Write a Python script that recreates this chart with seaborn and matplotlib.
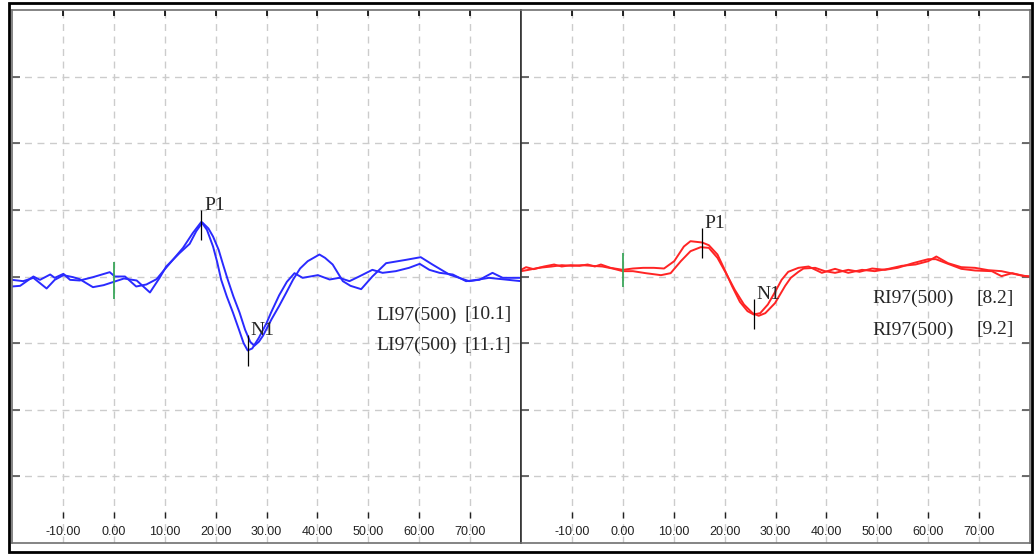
import matplotlib
matplotlib.use('Agg')
import numpy as np
import matplotlib.pyplot as plt
import seaborn as sns
from matplotlib.patches import Rectangle

# ── data (ms, relative amplitude) ─────────────────────────────────────────
blue_a_t = [-20, -18.4, -15.8, -14.5, -12.5, -11.6, -9.9, -8.6, -6.7, -4.1, -0.8, 0.2,
            2.2, 4.4, 6.4, 8.4, 9.7, 11.6, 13.6, 15.5, 17.2, 18.3, 19.5, 20.3, 21.1,
            22.2, 23.4, 24.6, 25.5, 26.3, 27.2, 28.5, 30.0, 30.9, 32.5, 34.0, 35.5,
            37.1, 40.1, 42.4, 44.3, 46.3, 48.2, 50.8, 52.8, 55.4, 58.0, 60.1, 62.0,
            64.0, 66.6, 69.2, 71.8, 74.4, 76.4, 80]
blue_a_v = [-0.15, -0.14, 0.0, -0.05, 0.03, -0.02, 0.04, -0.05, -0.06, -0.01, 0.065, 0.0,
            0.0, -0.15, -0.12, -0.04, 0.08, 0.25, 0.43, 0.65, 0.82, 0.70, 0.45, 0.22, -0.05,
            -0.30, -0.54, -0.80, -1.00, -1.11, -1.08, -0.92, -0.70, -0.54, -0.28, -0.08, 0.05,
            -0.02, 0.02, -0.045, -0.02, -0.07, 0.0, 0.10, 0.055, 0.08, 0.13, 0.19, 0.10,
            0.055, 0.03, -0.07, -0.05, 0.055, -0.02, -0.02]

blue_b_t = [-20, -17.8, -15.8, -13.2, -11.6, -9.9, -8, -6.7, -4.1, -2, 0, 2, 4.5, 7.1,
            9.0, 10.3, 12.9, 14.9, 16.2, 17.4, 18.6, 19.5, 20.6, 21.5, 22.4, 23.5, 24.7,
            25.8, 26.8, 27.6, 28.5, 29.3, 31.0, 32.5, 33.9, 35.2, 36.6, 38.1, 40.4, 41.5,
            43.0, 45.0, 46.5, 48.6, 50.8, 53.5, 57.4, 60.3, 62.6, 65.9, 69.8, 73.7, 80]
blue_b_v = [-0.05, -0.07, -0.02, -0.18, -0.05, 0.02, -0.01, -0.04, -0.16, -0.13, -0.08,
            -0.03, -0.06, -0.24, -0.02, 0.15, 0.35, 0.49, 0.68, 0.81, 0.72, 0.60, 0.40,
            0.17, -0.05, -0.30, -0.54, -0.80, -0.98, -1.04, -0.98, -0.89, -0.64, -0.44,
            -0.24, -0.05, 0.12, 0.23, 0.33, 0.28, 0.18, -0.07, -0.14, -0.19, 0.0, 0.20,
            0.25, 0.29, 0.18, 0.03, -0.07, -0.02, -0.07]

red_a_t = [-20, -19, -17.5, -15.5, -13.5, -12, -10.2, -8.5, -6.9, -5.5, -4.3, -2.4, 0,
           2, 4, 6.1, 8.1, 10.1, 12.0, 13.3, 15.6, 16.9, 18.6, 19.9, 21.5, 23.0, 24.5,
           25.7, 27.0, 28.5, 30.0, 31.2, 32.5, 34.5, 36.5, 39.1, 41.7, 44.3, 47.0, 49.5,
           52.2, 54.8, 57.5, 60.0, 61.6, 63.9, 66.5, 69.2, 71.8, 74.4, 78.3, 80]
red_a_v = [0.10, 0.14, 0.11, 0.15, 0.18, 0.15, 0.17, 0.16, 0.18, 0.15, 0.18, 0.13, 0.10,
           0.12, 0.13, 0.13, 0.12, 0.23, 0.45, 0.53, 0.51, 0.47, 0.33, 0.12, -0.15, -0.38,
           -0.52, -0.57, -0.55, -0.42, -0.22, -0.05, 0.07, 0.13, 0.15, 0.055, 0.115, 0.055,
           0.10, 0.08, 0.115, 0.16, 0.18, 0.23, 0.30, 0.20, 0.14, 0.13, 0.095, 0.08, 0.015,
           0.0]

red_b_t = [-20, -18.5, -16.5, -14, -12, -10, -8, -6, -4, -2, 0, 2, 4.5, 7.5, 9.4, 11.4,
           13.3, 15.3, 16.9, 18.6, 20.2, 22.0, 23.8, 25.5, 26.7, 28.0, 29.9, 31.9, 33.0,
           34.5, 35.5, 37.8, 39.7, 41.7, 44.3, 46.5, 49.0, 51.5, 54.0, 57.0, 60.0, 61.5,
           63.9, 66.5, 69.2, 72.5, 74.4, 76.5, 79, 80]
red_b_v = [0.08, 0.10, 0.13, 0.15, 0.17, 0.16, 0.17, 0.16, 0.15, 0.12, 0.08, 0.08, 0.05,
           0.02, 0.05, 0.23, 0.38, 0.44, 0.43, 0.28, 0.06, -0.20, -0.42, -0.55, -0.59,
           -0.55, -0.40, -0.14, -0.02, 0.07, 0.12, 0.13, 0.08, 0.055, 0.10, 0.07, 0.12,
           0.10, 0.13, 0.20, 0.26, 0.26, 0.19, 0.115, 0.09, 0.08, 0.005, 0.05, 0.005, 0.0]

# peak markers: name, latency, marker bottom, marker top
left_peaks = ['P1', 'N1']
left_peak_t = [17.2, 26.3]
left_peak_lo = [0.55, -1.34]
left_peak_hi = [1.00, -0.88]
right_peaks = ['P1', 'N1']
right_peak_t = [15.6, 25.7]
right_peak_lo = [0.28, -0.79]
right_peak_hi = [0.73, -0.34]

# stimulus marker span at t = 0
left_stim = (-0.345, 0.225)
right_stim = (-0.165, 0.36)

left_names = ['LI97(500)', 'LI97(500)']
left_vals = ['[10.1]', '[11.1]']
right_names = ['RI97(500)', 'RI97(500)']
right_vals = ['[8.2]', '[9.2]']

xticks = [-10, 0, 10, 20, 30, 40, 50, 60, 70]
xtick_labels = [f'{x:.2f}' for x in xticks]
yticks = [-3, -2, -1, 0, 1, 2, 3]

BLUE = '#2a2aff'
RED = '#ff2424'
GREEN = '#3aa65a'

sns.set_style('white')
plt.rcParams['font.family'] = ['Liberation Serif', 'DejaVu Serif']
plt.rcParams['lines.solid_joinstyle'] = 'round'

fig = plt.figure(figsize=(10.36, 5.56), dpi=100)
ax_l = fig.add_axes([12 / 1036, 13 / 556, 509 / 1036, 533 / 556])
ax_r = fig.add_axes([521 / 1036, 13 / 556, 509 / 1036, 533 / 556])


def style_panel(ax, left_t, right_t, inner):
    ax.set_xlim(-20, 80)
    ax.set_ylim(-4, 4)
    ax.set_xticks(xticks)
    ax.set_xticklabels(xtick_labels, family='Liberation Sans', fontsize=9, color='#222')
    ax.set_yticks(yticks)
    ax.set_yticklabels([])
    ax.set_axisbelow(True)
    ax.grid(True, color='#cccccc', linestyle=(0, (5, 4)), lw=1)
    ax.tick_params(axis='x', bottom=False, top=True, labelbottom=True, labeltop=False,
                   direction='in', length=4.5, width=1.2, color='black', pad=-12)
    ax.tick_params(axis='y', left=left_t, right=right_t, direction='in',
                   length=6, width=1.2, color='#555555')
    for s in ax.spines.values():
        s.set_visible(True)
        s.set_color('#707070')
        s.set_linewidth(1.2)
    ax.spines[inner].set_color('#333333')
    ax.vlines(xticks, 0.047, 0.058, transform=ax.get_xaxis_transform(),
              color='#222', lw=1)
    ax.set_xlabel('')
    ax.set_ylabel('')


# left panel
for t, v in [(blue_a_t, blue_a_v), (blue_b_t, blue_b_v)]:
    sns.lineplot(x=t, y=v, ax=ax_l, color=BLUE, lw=1.4, estimator=None, sort=False)
ax_l.vlines(0, *left_stim, color=GREEN, lw=1.3)
ax_l.vlines(left_peak_t, left_peak_lo, left_peak_hi, color='black', lw=0.9)
for name, t, hi in zip(left_peaks, left_peak_t, left_peak_hi):
    ax_l.text(t + 0.5, hi, name, fontsize=14, va='baseline', ha='left')
for i, (n, v) in enumerate(zip(left_names, left_vals)):
    y = -0.645 - 0.455 * i
    ax_l.text(51.6, y, n, fontsize=14, va='baseline', ha='left')
    ax_l.text(78.1, y, v, fontsize=14, va='baseline', ha='right')
style_panel(ax_l, True, False, 'right')

# right panel
for t, v in [(red_a_t, red_a_v), (red_b_t, red_b_v)]:
    sns.lineplot(x=t, y=v, ax=ax_r, color=RED, lw=1.4, estimator=None, sort=False)
ax_r.vlines(0, *right_stim, color=GREEN, lw=1.3)
ax_r.vlines(right_peak_t, right_peak_lo, right_peak_hi, color='black', lw=0.9)
for name, t, hi in zip(right_peaks, right_peak_t, right_peak_hi):
    ax_r.text(t + 0.5, hi, name, fontsize=14, va='baseline', ha='left')
for i, (n, v) in enumerate(zip(right_names, right_vals)):
    y = -0.40 - 0.47 * i
    ax_r.text(65.0, y, n, fontsize=14, va='baseline', ha='right')
    ax_r.text(76.8, y, v, fontsize=14, va='baseline', ha='right')
style_panel(ax_r, True, True, 'left')

# outer frame
fig.add_artist(Rectangle((9 / 1036, 4.5 / 556), 1023 / 1036, 548.5 / 556,
                         transform=fig.transFigure, fill=False, ec='black', lw=2))

fig.savefig('out.png', dpi=100)
